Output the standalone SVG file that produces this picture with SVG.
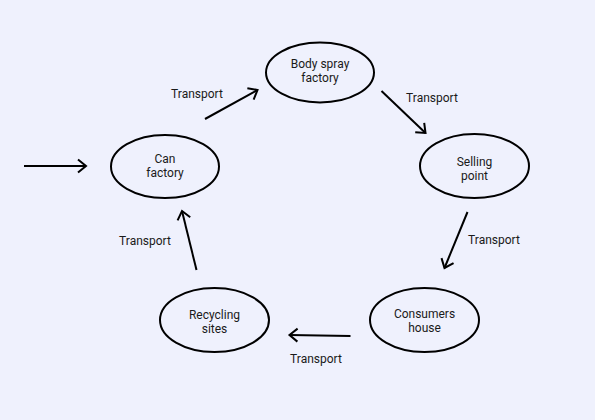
<svg xmlns="http://www.w3.org/2000/svg" width="595" height="420" viewBox="0 0 595 420">
<style>
.n ellipse{fill:none;stroke:#000;stroke-width:2}
text{font-family:Roboto,"Liberation Sans",sans-serif;font-size:12px;fill:#1a1a1a;text-anchor:middle}
.c line{stroke:#000;stroke-width:2;marker-end:url(#ah)}
</style>
<defs>
<marker id="ah" markerUnits="userSpaceOnUse" markerWidth="20" markerHeight="20" refX="0" refY="0" viewBox="-12 -10 14 20" orient="auto">
<path d="M-8,-6.5 L0,0 L-8,6.5" fill="none" stroke="#000" stroke-width="2"/>
</marker>
</defs>
<rect width="595" height="420" fill="#eff1fd"/>
<g id="can"  class="n"><ellipse cx="165" cy="166.5" rx="54" ry="31.5"/><text x="165" y="163">Can</text><text x="165" y="177">factory</text></g>
<g id="body" class="n"><ellipse cx="320" cy="72.5" rx="54" ry="30"/><text x="320" y="68">Body spray</text><text x="320" y="82">factory</text></g>
<g id="sell" class="n"><ellipse cx="474.5" cy="166" rx="54.5" ry="32"/><text x="474.5" y="166">Selling</text><text x="474.5" y="180">point</text></g>
<g id="cons" class="n"><ellipse cx="424.5" cy="320" rx="54.5" ry="32"/><text x="424.5" y="318">Consumers</text><text x="424.5" y="332">house</text></g>
<g id="recy" class="n"><ellipse cx="214.5" cy="320" rx="54.5" ry="32"/><text x="214.5" y="319">Recycling</text><text x="214.5" y="333">sites</text></g>
<g id="connectors" class="c">
<line x1="24" y1="166" x2="86" y2="166"/>
<line x1="205" y1="119" x2="257.5" y2="90"/>
<line x1="381.5" y1="91" x2="425.5" y2="133"/>
<line x1="467.5" y1="212" x2="444.5" y2="268"/>
<line x1="350.5" y1="336" x2="289.5" y2="335"/>
<line x1="196.5" y1="270" x2="182" y2="211"/>
</g>
<g id="labels">
<text x="197" y="98">Transport</text>
<text x="432" y="102">Transport</text>
<text x="494" y="244">Transport</text>
<text x="145" y="245">Transport</text>
<text x="316" y="363">Transport</text>
</g>
</svg>
